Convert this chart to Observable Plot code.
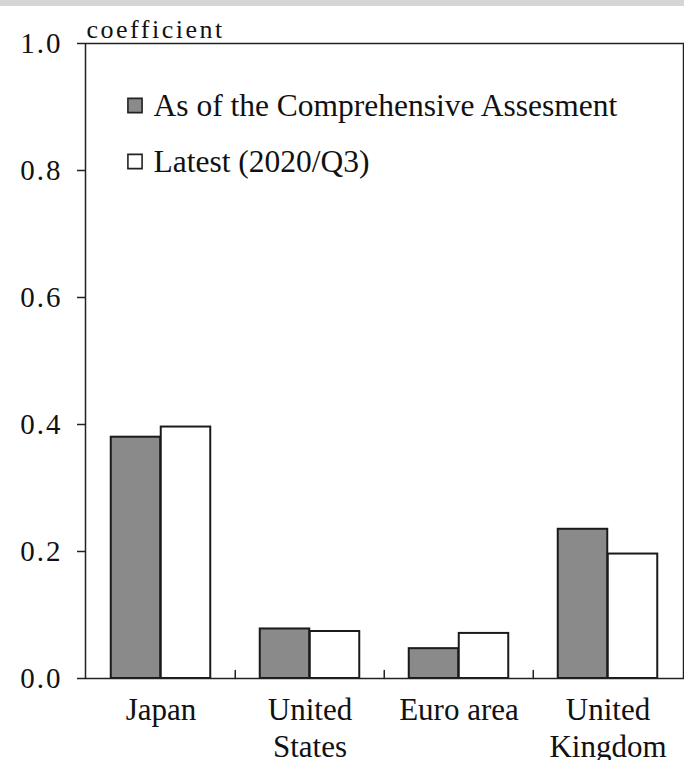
<!DOCTYPE html>
<html><head><meta charset="utf-8">
<script src="https://cdn.jsdelivr.net/npm/d3@7"></script>
<script src="https://cdn.jsdelivr.net/npm/@observablehq/plot@0.6"></script>
<style>
body{margin:0;background:#fff;}
#band{height:6px;background:#d6d6d6;}
</style></head><body>
<div id="band"></div>
<div id="chart"></div>
<script>
const countries = ["Japan", "United States", "Euro area", "United Kingdom"];
const xLabels = ["Japan", "United\nStates", "Euro area", "United\nKingdom"];
const seriesNames = ["As of the Comprehensive Assesment", "Latest (2020/Q3)"];
const assessment = [0.380, 0.078, 0.047, 0.235];
const latest = [0.396, 0.074, 0.071, 0.196];
const yTicks = [0, 0.2, 0.4, 0.6, 0.8, 1.0];
const yLabel = "coefficient";
const fills = ["#8a8a8a", "#ffffff"];

const rowsA = countries.map((c, i) => ({country: c, value: assessment[i]}));
const rowsL = countries.map((c, i) => ({country: c, value: latest[i]}));
const W = 684, ML = 85, MR = 1;
const band = (W - ML - MR) / countries.length;
const barW = 50;
const outer = (band - 2 * barW) / 2;
const font = "'Liberation Serif', 'Times New Roman', serif";

const legendMarks = seriesNames.flatMap((s, i) => [
  Plot.dot([s], {frameAnchor: "top-left", dx: 49.5, dy: 62 + 56 * i, symbol: "square", r: 8, fill: fills[i], stroke: "#222", strokeWidth: 1.6}),
  Plot.text([s], {frameAnchor: "top-left", dx: 68, dy: 62 + 56 * i, text: d => d, textAnchor: "start", lineAnchor: "middle", fontSize: 31.5, fill: "#111"})
]);

const chart = Plot.plot({
  width: W,
  height: 754,
  marginTop: 37,
  marginBottom: 82,
  marginLeft: ML,
  marginRight: MR,
  style: {fontFamily: font, background: "#fff", color: "#111"},
  x: {domain: countries, padding: 0, axis: null},
  y: {domain: [0, 1], axis: null},
  marks: [
    Plot.barY(rowsA, {x: "country", y: "value", fill: fills[0], stroke: "#1a1a1a", strokeWidth: 2, insetLeft: outer, insetRight: outer + barW}),
    Plot.barY(rowsL, {x: "country", y: "value", fill: fills[1], stroke: "#1a1a1a", strokeWidth: 2, insetLeft: outer + barW, insetRight: outer}),
    Plot.frame({stroke: "#222", strokeWidth: 1.5}),
    Plot.axisY({ticks: yTicks, tickSize: 8, tickPadding: 15, tickFormat: d3.format(".1f"), fontSize: 29, stroke: "#222", strokeWidth: 1.5, label: null}),
    Plot.axisX({tickSize: 0, tickPadding: 15, tickFormat: d => xLabels[countries.indexOf(d)], fontSize: 31, lineHeight: 1.2, label: null}),
    Plot.vector(countries.slice(1), {x: d => d, y: 0, length: 8, rotate: 0, anchor: "start", r: 0, dx: -band / 2, stroke: "#222", strokeWidth: 1.5}),
    Plot.text([yLabel], {frameAnchor: "top-left", dx: 1, dy: -6, text: d => d, textAnchor: "start", lineAnchor: "bottom", fontSize: 26, fill: "#111"}),
    ...legendMarks
  ]
});
// typographic letter spacing to match the reference's wide lettering
chart.querySelectorAll("text").forEach(t => {
  const s = t.textContent;
  if (s === yLabel) t.setAttribute("letter-spacing", "2.5");
  else if (/^\d\.\d$/.test(s)) t.setAttribute("letter-spacing", "2");
});
document.getElementById("chart").append(chart);
</script>
</body></html>
